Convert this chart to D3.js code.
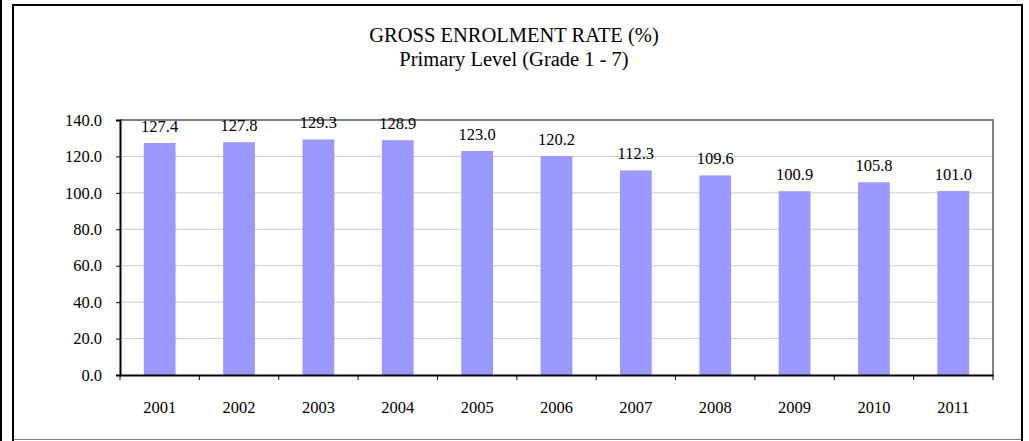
<!DOCTYPE html>
<html>
<head>
<meta charset="utf-8">
<script src="https://cdn.jsdelivr.net/npm/d3@7"></script>
<style>
	body { margin: 0; background: #ffffff; }
	svg { display: block; font-family: "Liberation Serif", "Times New Roman", serif; }
</style>
</head>
<body>
<div id="chart"></div>
<script>
// chart data
const years = ['2001','2002','2003','2004','2005','2006','2007','2008','2009','2010','2011'];
const enrolment_rate = [127.4, 127.8, 129.3, 128.9, 123.0, 120.2, 112.3, 109.6, 100.9, 105.8, 101.0];
const y_ticks = [0, 20, 40, 60, 80, 100, 120, 140];

const chart_title = 'GROSS ENROLMENT RATE (%)';
const chart_subtitle = 'Primary Level (Grade 1 - 7)';

const width = 1029;
const height = 441;
const plot = { left: 120, top: 120, right: 993, bottom: 375 };
const bar_color = '#9999ff';

const svg = d3.select('#chart')
	.append('svg')
	.attr('width', width)
	.attr('height', height);

// page edge line and chart frame
svg.append('line')
	.attr('x1', 1).attr('x2', 1)
	.attr('y1', 0).attr('y2', height)
	.attr('stroke', '#000').attr('stroke-width', 2);

svg.append('path')
	.attr('d', 'M13,441V5H1022V441')
	.attr('fill', 'none')
	.attr('stroke', '#000')
	.attr('stroke-width', 2);

svg.append('line')
	.attr('x1', 14).attr('x2', 1021)
	.attr('y1', 439.5).attr('y2', 439.5)
	.attr('stroke', '#808080')
	.attr('stroke-width', 1);

// titles
svg.append('text')
	.attr('x', 514).attr('y', 42)
	.attr('text-anchor', 'middle')
	.attr('font-size', 20.5)
	.text(chart_title);

svg.append('text')
	.attr('x', 514).attr('y', 65.5)
	.attr('text-anchor', 'middle')
	.attr('font-size', 20.5)
	.text(chart_subtitle);

// scales
const x = d3.scaleBand()
	.domain(years)
	.range([plot.left, plot.right])
	.paddingInner(0.6)
	.paddingOuter(0.3);

const step = (plot.right - plot.left) / years.length;

const y = d3.scaleLinear()
	.domain([0, 140])
	.range([plot.bottom, plot.top]);

// gridlines
svg.append('g')
	.selectAll('line')
	.data(y_ticks.filter(d => d > 0 && d < 140))
	.join('line')
	.attr('x1', plot.left).attr('x2', plot.right)
	.attr('y1', d => y(d)).attr('y2', d => y(d))
	.attr('stroke', '#cccccc')
	.attr('stroke-width', 1);

// top and right border of plot area
svg.append('path')
	.attr('d', 'M' + plot.left + ',' + plot.top + 'H' + plot.right + 'V' + plot.bottom)
	.attr('fill', 'none')
	.attr('stroke', '#808080')
	.attr('stroke-width', 2);

// bars
svg.append('g')
	.selectAll('rect')
	.data(enrolment_rate)
	.join('rect')
	.attr('x', (d, i) => x(years[i]))
	.attr('y', d => y(d))
	.attr('width', x.bandwidth())
	.attr('height', d => y(0) - y(d))
	.attr('fill', bar_color);

// value labels
svg.append('g')
	.selectAll('text')
	.data(enrolment_rate)
	.join('text')
	.attr('x', (d, i) => x(years[i]) + x.bandwidth() / 2)
	.attr('y', d => y(d) - 11)
	.attr('text-anchor', 'middle')
	.attr('font-size', 16.5)
	.text(d => d.toFixed(1));

// y axis
const y_axis = svg.append('g')
	.attr('transform', 'translate(' + plot.left + ',0)')
	.call(d3.axisLeft(y).tickValues(y_ticks).tickSize(4).tickPadding(14).tickFormat(d3.format('.1f')));

y_axis.select('.domain').attr('stroke', '#000').attr('stroke-width', 2);
y_axis.selectAll('.tick line').attr('stroke', '#000');
y_axis.selectAll('.tick text')
	.attr('font-size', 16.5)
	.attr('font-family', 'Liberation Serif, Times New Roman, serif')
	.attr('fill', '#000');

// x axis, ticks sit on the category boundaries
const x_axis = svg.append('g')
	.attr('transform', 'translate(0,' + plot.bottom + ')')
	.call(d3.axisBottom(x).tickSize(0).tickPadding(26));

x_axis.select('.domain').attr('stroke', '#000').attr('stroke-width', 2);
x_axis.selectAll('.tick text')
	.attr('font-size', 16.5)
	.attr('font-family', 'Liberation Serif, Times New Roman, serif')
	.attr('fill', '#000');

x_axis.selectAll('.boundary')
	.data(d3.range(years.length + 1))
	.join('line')
	.attr('class', 'boundary')
	.attr('x1', i => plot.left + i * step)
	.attr('x2', i => plot.left + i * step)
	.attr('y1', 0).attr('y2', 5)
	.attr('stroke', '#000');
</script>
</body>
</html>
